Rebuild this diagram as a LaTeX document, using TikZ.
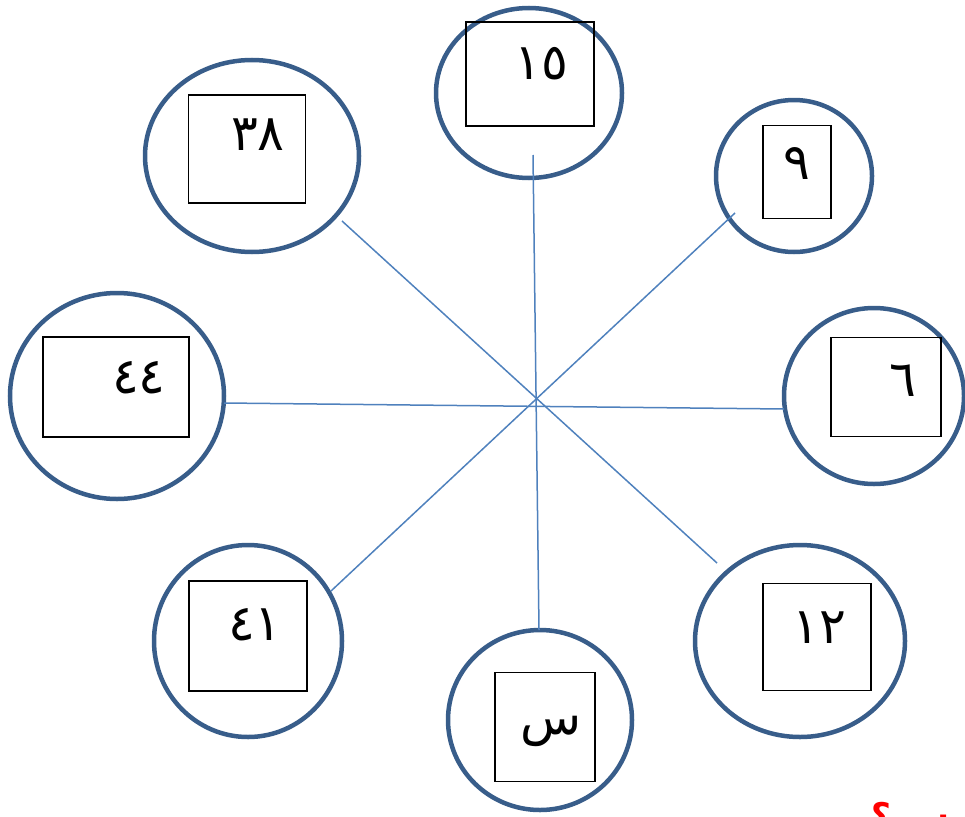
\documentclass[tikz,border=0pt]{standalone}
\usepackage{fontspec}
\usetikzlibrary{shapes.geometric}
\TeXXeTstate=1
\newfontfamily\arabicfont[Script=Arabic]{DejaVu Sans}
\definecolor{ringblue}{HTML}{385D8A}
\definecolor{spokeblue}{HTML}{4F81BD}

\begin{document}
\begin{tikzpicture}[x=1pt, y=-1pt,
  ring/.style 2 args={draw=ringblue, line width=4.5pt, ellipse, inner sep=0pt, minimum width=#1pt, minimum height=#2pt},
  numbox/.style 2 args={draw=black, line width=1.2pt, rectangle, inner sep=0pt, minimum width=#1pt, minimum height=#2pt},
  num/.style={font=\arabicfont\fontsize{50}{58}\selectfont, inner sep=0pt},
  spoke/.style={draw=spokeblue, line width=1.5pt}
]
  \clip (0,0) rectangle (965,816);
  % rings
  \node[ring={186}{170}] (r15) at (529,93) {};
  \node[ring={156}{152}] (r9) at (794,176) {};
  \node[ring={180}{176}] (r6) at (874,396) {};
  \node[ring={210}{192}] (r12) at (800,641) {};
  \node[ring={184}{180}] (rs) at (540,720) {};
  \node[ring={188}{192}] (r41) at (248,641) {};
  \node[ring={214}{206}] (r44) at (117,396) {};
  \node[ring={214}{192}] (r38) at (252,156) {};
  % boxes
  \node[numbox={128}{104}] (b15) at (530,74) {};
  \node[numbox={68}{93}] (b9) at (797,172) {};
  \node[numbox={110}{99}] (b6) at (886,387) {};
  \node[numbox={108}{107}] (b12) at (817,637) {};
  \node[numbox={100}{109}] (bs) at (545,727) {};
  \node[numbox={118}{110}] (b41) at (248,636) {};
  \node[numbox={146}{100}] (b44) at (116,387) {};
  \node[numbox={117}{108}] (b38) at (247,149) {};
  % numbers
  \node[num] (t15) at (541,64) {١٥};
  \node[num] (t9) at (797,164) {٩};
  \node[num] (t6) at (903,381) {٦};
  \node[num] (t12) at (819,628) {١٢};
  \node[num] (ts) at (551,731) {س};
  \node[num] (t41) at (255,625) {٤١};
  \node[num] (t44) at (139,378) {٤٤};
  \node[num] (t38) at (258,135) {٣٨};
  % spoke ends
  \coordinate (e15) at (533,155);
  \coordinate (es) at (539,630);
  \coordinate (e38) at (342,221);
  \coordinate (e12) at (717,563);
  \coordinate (e9) at (735,213);
  \coordinate (e41) at (331,591);
  \coordinate (e44) at (224,403);
  \coordinate (e6) at (784,409);
  \draw[spoke] (e15) -- (es);
  \draw[spoke] (e38) -- (e12);
  \draw[spoke] (e9) -- (e41);
  \draw[spoke] (e44) -- (e6);
  % question, cut off by the page edge
  \node[font=\arabicfont\bfseries\fontsize{34}{40}\selectfont, text=red, anchor=north west, inner sep=0pt] (ask) at (871,802) {\beginR س ؟\endR};
\end{tikzpicture}
\end{document}
